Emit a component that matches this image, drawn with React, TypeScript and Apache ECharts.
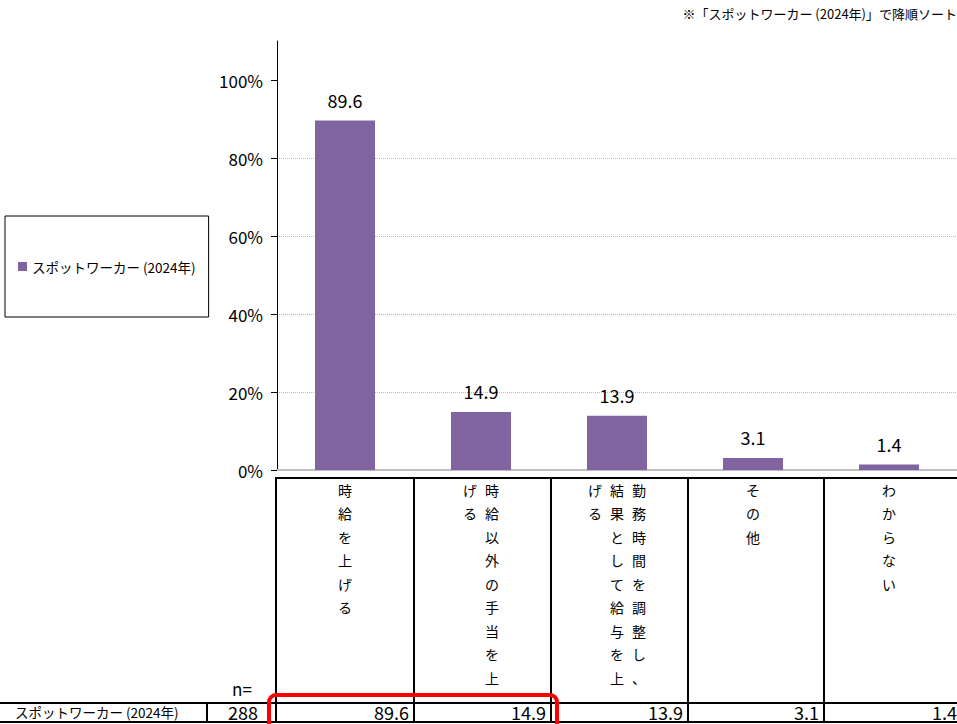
import React, { useEffect, useRef } from "react";
import * as echarts from "echarts";

const categories = [
  "時給を上げる",
  "時給以外の手当を上げる",
  "勤務時間を調整し、結果として給与を上げる",
  "その他",
  "わからない",
];
const values = [89.6, 14.9, 13.9, 3.1, 1.4];
const seriesName = "スポットワーカー (2024年)";
const sampleSize = 288;
const sampleLabel = "n=";
const yTicks = [0, 20, 40, 60, 80, 100];
const note = "※「スポットワーカー (2024年)」で降順ソート";

const FONT = "'Noto Sans CJK JP', 'Noto Sans', sans-serif";

function verticalLabel(s: string): string {
  const chars = Array.from(s);
  const chunks: string[][] = [];
  for (let i = 0; i < chars.length; i += 9) chunks.push(chars.slice(i, i + 9));
  const rows = chunks[0].length;
  const lines: string[] = [];
  for (let r = 0; r < rows; r++) {
    const cells = chunks
      .slice()
      .reverse()
      .map((c) => (c[r] !== undefined ? c[r] : "　"));
    lines.push(cells.map((ch) => `{c|${ch}}`).join(""));
  }
  return lines.join("\n");
}

export default function App() {
  const ref = useRef<HTMLDivElement>(null);

  useEffect(() => {
    if (!ref.current) return;
    const chart = echarts.init(ref.current, undefined, { renderer: "svg" });

    // table layout (positions only)
    const colX = [276, 414, 551, 688, 824, 962];
    const tableTop = 478;
    const rowTop = 703;
    const rowBottom = 722;
    const rowMid = 712;

    const graphics: any[] = [];
    const line = (x1: number, y1: number, x2: number, y2: number) =>
      graphics.push({
        type: "line",
        shape: { x1, y1, x2, y2 },
        style: { stroke: "#000", lineWidth: 2 },
        silent: true,
      });
    line(276, tableTop, 957, tableTop);
    colX.slice(0, 5).forEach((x) => line(x, tableTop - 1, x, rowBottom + 1));
    line(0, rowTop, 957, rowTop);
    line(0, rowBottom, 957, rowBottom);
    line(207, rowTop, 207, rowBottom);

    const text = (
      t: string,
      x: number,
      y: number,
      align: string,
      size: number
    ) =>
      graphics.push({
        type: "text",
        x,
        y,
        silent: true,
        style: {
          text: t,
          fill: "#000",
          font: `${size}px ${FONT}`,
          align,
          verticalAlign: "middle",
          textAlign: align,
          textVerticalAlign: "middle",
        },
      });

    text(note, 957, 13, "right", 13);
    text(seriesName, 15, rowMid, "left", 13.5);
    text(String(sampleSize), 258, rowMid, "right", 18);
    text(sampleLabel, 242, 688, "center", 17);
    values.forEach((v, i) => {
      text(v.toFixed(1), Math.min(colX[i + 1] - 5, 957), rowMid, "right", 18);
    });

    graphics.push({
      type: "rect",
      z: 100,
      silent: true,
      shape: { x: 269, y: 695, width: 288, height: 60, r: 7 },
      style: { fill: "none", stroke: "#ff0000", lineWidth: 4 },
    });

    chart.setOption({
      animation: false,
      backgroundColor: "#fff",
      textStyle: { fontFamily: FONT },
      grid: { left: 277, right: 0, top: 41, bottom: 254, containLabel: false },
      legend: {
        data: [seriesName],
        left: 5,
        top: 216,
        orient: "vertical",
        padding: [43, 13, 43, 13],
        borderColor: "#000",
        borderWidth: 1,
        backgroundColor: "#fff",
        itemWidth: 9,
        itemHeight: 9,
        icon: "rect",
        textStyle: { fontSize: 13.5, color: "#000", fontFamily: FONT, lineHeight: 15 },
      },
      xAxis: {
        type: "category",
        data: categories,
        axisLine: { show: true, lineStyle: { color: "#bfbfbf", width: 2 } },
        axisTick: { show: false },
        axisLabel: {
          interval: 0,
          margin: 8,
          formatter: (v: string) => verticalLabel(v),
          rich: {
            c: {
              width: 22,
              align: "center",
              fontSize: 14,
              lineHeight: 23.5,
              color: "#000",
              fontFamily: FONT,
            },
          },
        },
      },
      yAxis: {
        type: "value",
        min: 0,
        max: 110,
        interval: 20,
        axisLine: { show: true, lineStyle: { color: "#000", width: 1 } },
        axisTick: {
          show: true,
          length: 6,
          customValues: yTicks,
          lineStyle: { color: "#000" },
        },
        axisLabel: {
          customValues: yTicks,
          margin: 14,
          fontSize: 17,
          color: "#000",
          fontFamily: FONT,
          formatter: (v: number) => (v > 100 ? "" : `${v}%`),
        },
        splitLine: {
          show: true,
          showMaxLine: false,
          lineStyle: { color: "#b8b8b8", type: "dotted", width: 1 },
        },
      },
      series: [
        {
          name: seriesName,
          type: "bar",
          data: values,
          barWidth: 60,
          itemStyle: { color: "#8064A2" },
          label: {
            show: true,
            position: "top",
            distance: 12,
            fontSize: 18,
            color: "#000",
            fontFamily: FONT,
            formatter: (p: any) => Number(p.value).toFixed(1),
          },
        },
      ],
      graphic: graphics,
    });

    return () => chart.dispose();
  }, []);

  return (
    <div
      ref={ref}
      style={{ position: "fixed", left: 0, top: 0, width: 957, height: 724 }}
    />
  );
}
